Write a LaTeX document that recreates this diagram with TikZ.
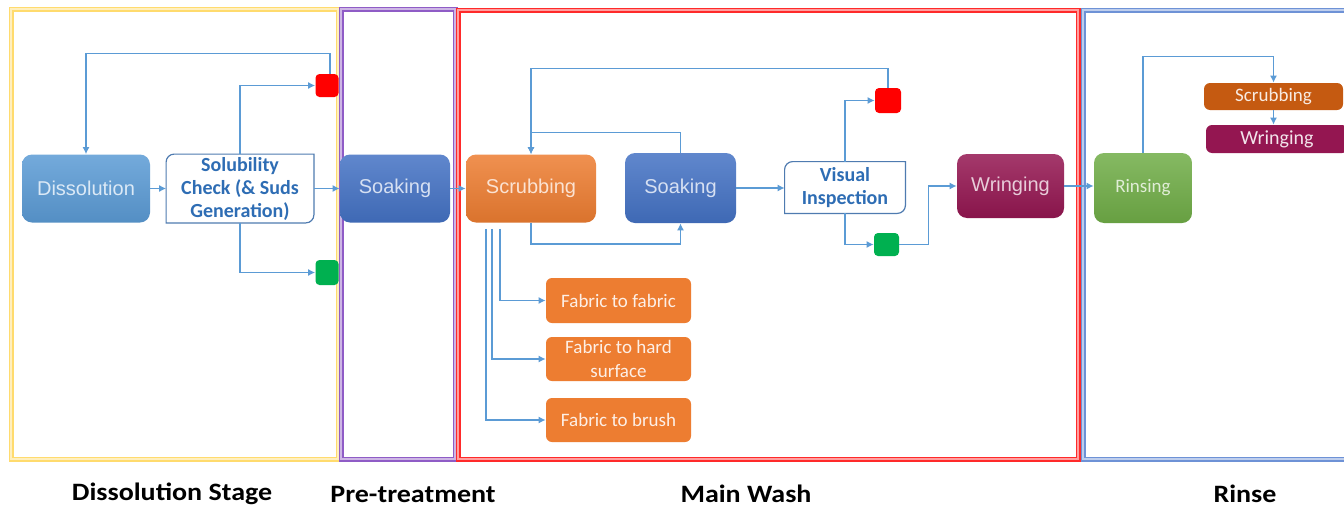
\documentclass[tikz,border=0pt]{standalone}
\usepackage{fontspec}
\setmainfont{Liberation Sans}
\newfontfamily\calfont{Carlito}
\newfontfamily\lblfont[FakeStretch=1.12]{Carlito}
\usetikzlibrary{arrows.meta,positioning}

\definecolor{lineblue}{HTML}{5B9BD5}
\definecolor{dissblue}{HTML}{5B9BD5}
\definecolor{soakblue}{HTML}{4472C4}
\definecolor{scruborange}{HTML}{ED7D31}
\definecolor{darkorange}{HTML}{C55A11}
\definecolor{wringred}{HTML}{941651}
\definecolor{rinsegreen}{HTML}{70AD47}
\definecolor{okgreen}{HTML}{00B050}
\definecolor{badred}{HTML}{FF0000}
\definecolor{textblue}{HTML}{2E6DB4}
\definecolor{checkline}{HTML}{4F7BB0}
\definecolor{frameyellow}{HTML}{FFDB6E}
\definecolor{framepurple}{HTML}{8F5CC6}
\definecolor{framered}{HTML}{FF2A2A}
\definecolor{frameblue}{HTML}{6E92D6}

\tikzset{
  flow/.style={draw=lineblue, line width=0.6pt, -{Latex[length=3.5pt,width=3.5pt]}},
  stagebox/.style={rounded corners=5pt, inner sep=0pt, text=white!78!#1,
    top color=#1!85!white, bottom color=#1!92!black, font=\fontsize{10pt}{12pt}\selectfont},
  subbox/.style={rounded corners=3pt, fill=#1, inner sep=0pt, text=white!88!#1,
    align=center, font=\calfont\fontsize{9.5pt}{12pt}\selectfont},
  checkbox/.style={inner sep=0pt, text=textblue, align=center,
    font=\calfont\bfseries\fontsize{10pt}{11.5pt}\selectfont},
  flag/.style={rounded corners=2pt, fill=#1, inner sep=0pt},
  stagelabel/.style={font=\lblfont\bfseries\fontsize{12.5pt}{14pt}\selectfont},
  frame/.style={draw=#1, line width=0.7pt, double=#1!45!white, double distance=1.1pt},
}

% outline with two round corners (top left, bottom right)
\newcommand{\snipoutline}[1]{%
  \draw[checkline, line width=0.6pt, fill=white] (#1.north east) -- ([yshift=4pt]#1.south east)
    arc[start angle=0, end angle=-90, radius=4pt] -- (#1.south west)
    -- ([yshift=-4pt]#1.north west) arc[start angle=180, end angle=90, radius=4pt] -- cycle;}

\begin{document}
\begin{tikzpicture}[x=0.5pt,y=-0.5pt]
\clip (0,0) rectangle (1344,509);
\fill[white] (0,0) rectangle (1344,509);

% stage frames
\draw[frame=frameyellow] (11,9) rectangle (338,459);
\draw[frame=framepurple] (341,9) rectangle (455,459);
\draw[frame=framered] (458,10) rectangle (1078,459);
\draw[frame=frameblue] (1083,10) rectangle (1370,459);

\node[stagelabel] (lblDiss) at (172,494) {Dissolution Stage};
\node[stagelabel] (lblPre) at (413,494) {Pre-treatment};
\node[stagelabel] (lblMain) at (746,494) {Main Wash};
\node[stagelabel] (lblRinse) at (1245,494) {Rinse};

% dissolution stage
\node[stagebox=dissblue, minimum width=64pt, minimum height=34pt] (diss) at (86,188.5) {Dissolution};
\node[checkbox, minimum width=73.5pt, minimum height=34pt] (solub) at (240,188.5) {};
\snipoutline{solub}
\node[checkbox] at (solub) {Solubility\\Check (\& Suds\\Generation)};
\node[flag=badred, minimum width=11.5pt, minimum height=11.5pt] (redA) at (327,85.5) {};
\node[flag=okgreen, minimum width=11.5pt, minimum height=12.5pt] (greenA) at (327,272.5) {};

% pre-treatment
\node[stagebox=soakblue, minimum width=55pt, minimum height=34pt] (soakA) at (395,188.5) {Soaking};

% main wash
\node[stagebox=scruborange, minimum width=65pt, minimum height=34pt] (scrub) at (531,188.5) {Scrubbing};
\node[stagebox=soakblue, minimum width=55.5pt, minimum height=35pt] (soakB) at (680.5,188) {Soaking};
\node[checkbox, minimum width=60pt, minimum height=25.5pt] (visual) at (845,187.5) {};
\snipoutline{visual}
\node[checkbox] at (visual) {Visual\\Inspection};
\node[flag=badred, minimum width=13pt, minimum height=12.5pt] (redB) at (888,100.5) {};
\node[flag=okgreen, minimum width=12.5pt, minimum height=11.5pt] (greenB) at (886.5,244.5) {};
\node[stagebox=wringred, minimum width=53.5pt, minimum height=32pt] (wring) at (1010.5,186) {Wringing};
\node[subbox=scruborange, minimum width=72.5pt, minimum height=22.5pt] (fabA) at (618.5,300.5) {Fabric to fabric};
\node[subbox=scruborange, minimum width=72.5pt, minimum height=22pt] (fabB) at (618.5,359) {Fabric to hard\\surface};
\node[subbox=scruborange, minimum width=72.5pt, minimum height=22pt] (fabC) at (618.5,420) {Fabric to brush};

% rinse
\node[stagebox=rinsegreen, minimum width=49pt, minimum height=35pt, font=\calfont\fontsize{9.5pt}{12pt}\selectfont] (rinse) at (1143,188) {Rinsing};
\node[subbox=darkorange, minimum width=69.5pt, minimum height=13.5pt] (scrubC) at (1273.5,96.5) {Scrubbing};
\node[subbox=wringred, minimum width=71pt, minimum height=14pt, font=\calfont\fontsize{10pt}{12pt}\selectfont] (wringC) at (1277,139) {Wringing};

% connectors
\draw[flow] (diss.east) -- (solub.west);
\draw[flow] (solub.east) -- (soakA.west);
\draw[flow] (solub.north) |- (redA.west);
\draw[flow] (solub.south) |- (greenA.west);
\draw[flow] ([xshift=1.5pt]redA.north) -- ++(0,-20) -| (diss.north);
\draw[flow] (soakA.east) -- (scrub.west);
\draw[flow] (scrub.south) -- ++(0,21) -| (soakB.south);
\draw[flow] (soakB.north) -- ++(0,-20) -| (scrub.north);
\draw[flow] (redB.north) -- ++(0,-19) -| (scrub.north);
\draw[flow] (soakB.east) -- (soakB.east -| visual.west);
\draw[flow] (visual.north) |- (redB.west);
\draw[flow] (visual.south) |- (greenB.west);
\draw[flow] (greenB.east) -- ++(29,0) |- (wring.west);
\draw[flow] (wring.east) -- (wring.east -| rinse.west);
\draw[flow] (rinse.north) -- ++(0,-96) -| (scrubC.north);
\draw[flow] (scrubC.south) -- (scrubC.south |- wringC.north);
\foreach \fab/\dx in {fabA/15.5, fabB/19.5, fabC/22.5}
  \draw[flow] ([xshift=-\dx pt,yshift=-3pt]scrub.south) |- (\fab.west);
\end{tikzpicture}
\end{document}
